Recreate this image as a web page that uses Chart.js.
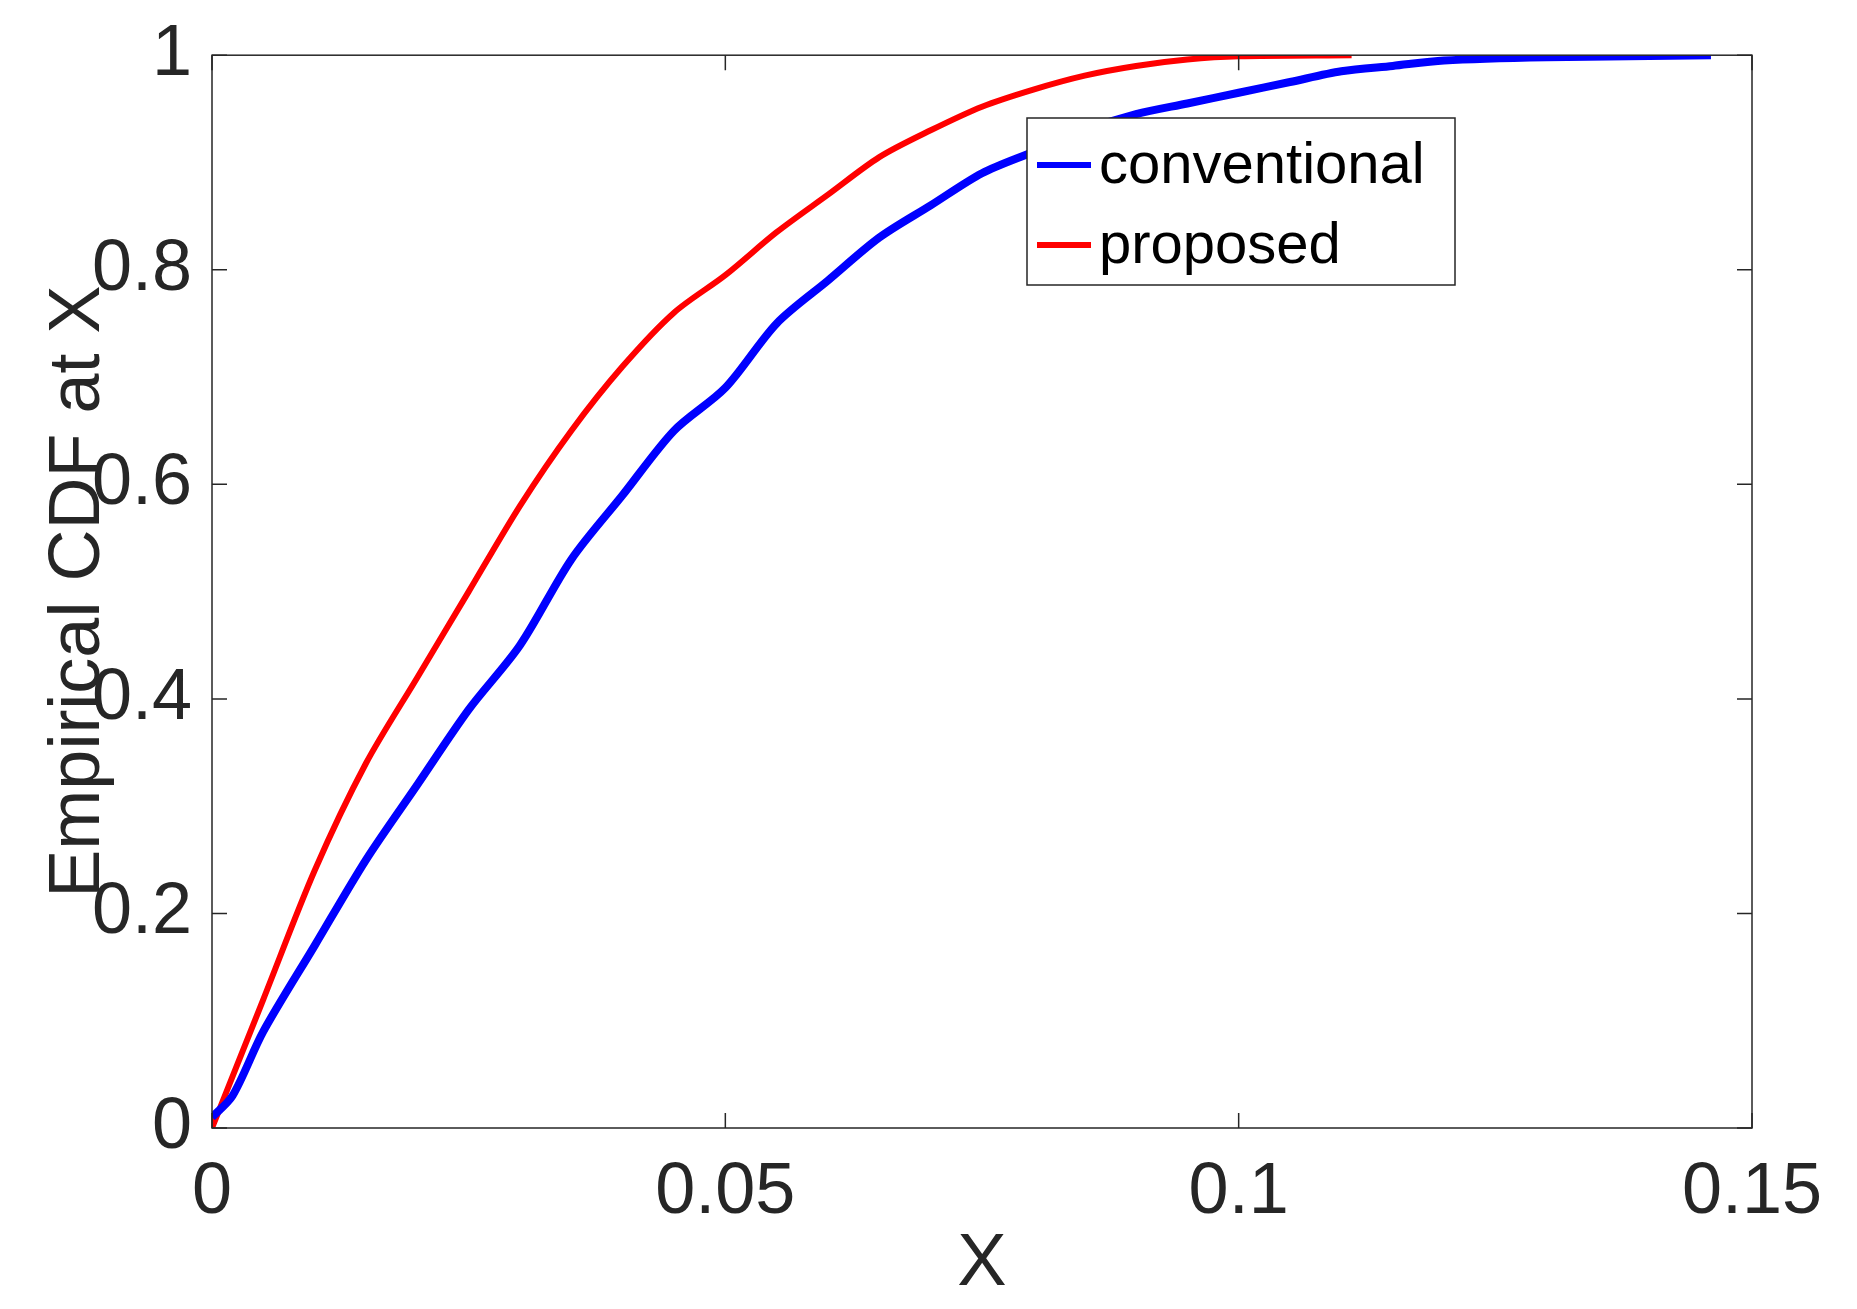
<!DOCTYPE html>
<html>
<head>
<script src="https://cdn.jsdelivr.net/npm/chart.js@4"></script>
<style>
  body { margin: 0; background: #fff; }
  #wrap { width: 1857px; height: 1309px; }
</style>
</head>
<body>
<div id="wrap"><canvas id="cdfChart"></canvas></div>
<script>
// conventional (blue)
const convX = [0, 0.002, 0.005, 0.01, 0.015, 0.02, 0.025, 0.03, 0.035, 0.04, 0.045, 0.05, 0.055, 0.06, 0.065, 0.07, 0.075, 0.08, 0.085, 0.09, 0.095, 0.1, 0.105, 0.11, 0.115, 0.12, 0.13, 0.146];
const convY = [0.01, 0.03, 0.09, 0.17, 0.25, 0.32, 0.39, 0.45, 0.53, 0.59, 0.65, 0.69, 0.75, 0.79, 0.83, 0.86, 0.89, 0.91, 0.93, 0.945, 0.955, 0.965, 0.975, 0.985, 0.99, 0.995, 0.998, 1];
// proposed (red)
const propX = [0, 0.005, 0.01, 0.015, 0.02, 0.025, 0.03, 0.035, 0.04, 0.045, 0.05, 0.055, 0.06, 0.065, 0.07, 0.075, 0.08, 0.085, 0.09, 0.095, 0.1, 0.111];
const propY = [0, 0.12, 0.24, 0.34, 0.42, 0.5, 0.58, 0.65, 0.71, 0.76, 0.795, 0.835, 0.87, 0.905, 0.93, 0.952, 0.968, 0.981, 0.99, 0.996, 0.999, 1];
const xTicks = [0, 0.05, 0.1, 0.15];
const yTicks = [0, 0.2, 0.4, 0.6, 0.8, 1];

const toPts = (xs, ys) => xs.map((x, i) => ({ x: x, y: ys[i] }));
const FONT = '"Liberation Sans", Arial, sans-serif';

// MATLAB-style box with inward ticks and an inside legend
const boxPlugin = {
    id: 'boxPlugin',
    afterDraw(chart) {
        const { ctx, chartArea: a, scales } = chart;
        ctx.save();
        ctx.strokeStyle = '#262626';
        ctx.lineWidth = 1.5;
        ctx.strokeRect(a.left, a.top, a.right - a.left, a.bottom - a.top);
        const t = 15;
        ctx.beginPath();
        xTicks.forEach(v => {
            const px = scales.x.getPixelForValue(v);
            ctx.moveTo(px, a.bottom); ctx.lineTo(px, a.bottom - t);
            ctx.moveTo(px, a.top); ctx.lineTo(px, a.top + t);
        });
        yTicks.forEach(v => {
            const py = scales.y.getPixelForValue(v);
            ctx.moveTo(a.left, py); ctx.lineTo(a.left + t, py);
            ctx.moveTo(a.right, py); ctx.lineTo(a.right - t, py);
        });
        ctx.stroke();

        // legend
        const lx = 1027, ly = 118, lw = 428, lh = 167;
        ctx.fillStyle = '#fff';
        ctx.fillRect(lx, ly, lw, lh);
        ctx.strokeStyle = '#262626';
        ctx.strokeRect(lx, ly, lw, lh);
        ctx.font = '58px ' + FONT;
        ctx.textBaseline = 'middle';
        chart.data.datasets.forEach((ds, i) => {
            const cy = ly + 47 + i * 80;
            ctx.strokeStyle = ds.borderColor;
            ctx.lineWidth = 6;
            ctx.beginPath();
            ctx.moveTo(lx + 10, cy); ctx.lineTo(lx + 64, cy);
            ctx.stroke();
            ctx.fillStyle = '#000';
            ctx.fillText(ds.label, lx + 72, cy + 2);
        });
        ctx.restore();
    }
};

const ctx = document.getElementById('cdfChart').getContext('2d');
new Chart(ctx, {
    type: 'line',
    data: {
        datasets: [
            { label: 'conventional', data: toPts(convX, convY), borderColor: '#0000ff', borderWidth: 8, pointRadius: 0, tension: 0.3 },
            { label: 'proposed', data: toPts(propX, propY), borderColor: '#ff0000', borderWidth: 6, pointRadius: 0, tension: 0.3 }
        ]
    },
    options: {
        responsive: true,
        maintainAspectRatio: false,
        animation: false,
        layout: { padding: { top: 54, right: 105, left: 36, bottom: 0 } },
        plugins: { legend: { display: false }, tooltip: { enabled: false } },
        scales: {
            x: {
                type: 'linear', min: 0, max: 0.15,
                afterBuildTicks: s => { s.ticks = xTicks.map(v => ({ value: v })); },
                afterFit: s => { s.height = 181; },
                grid: { display: false },
                border: { display: false },
                ticks: { color: '#262626', font: { family: FONT, size: 72 }, padding: 14, callback: v => String(v) },
                title: { display: true, text: 'X', color: '#262626', font: { family: FONT, size: 74 }, padding: 0 }
            },
            y: {
                type: 'linear', min: 0, max: 1,
                afterBuildTicks: s => { s.ticks = yTicks.map(v => ({ value: v })); },
                afterFit: s => { s.width = 176; },
                grid: { display: false },
                border: { display: false },
                ticks: { color: '#262626', font: { family: FONT, size: 72 }, padding: 12, callback: v => String(v) },
                title: { display: true, text: 'Empirical CDF at X', color: '#262626', font: { family: FONT, size: 72 }, padding: 0 }
            }
        }
    },
    plugins: [boxPlugin]
});
</script>
</body>
</html>
